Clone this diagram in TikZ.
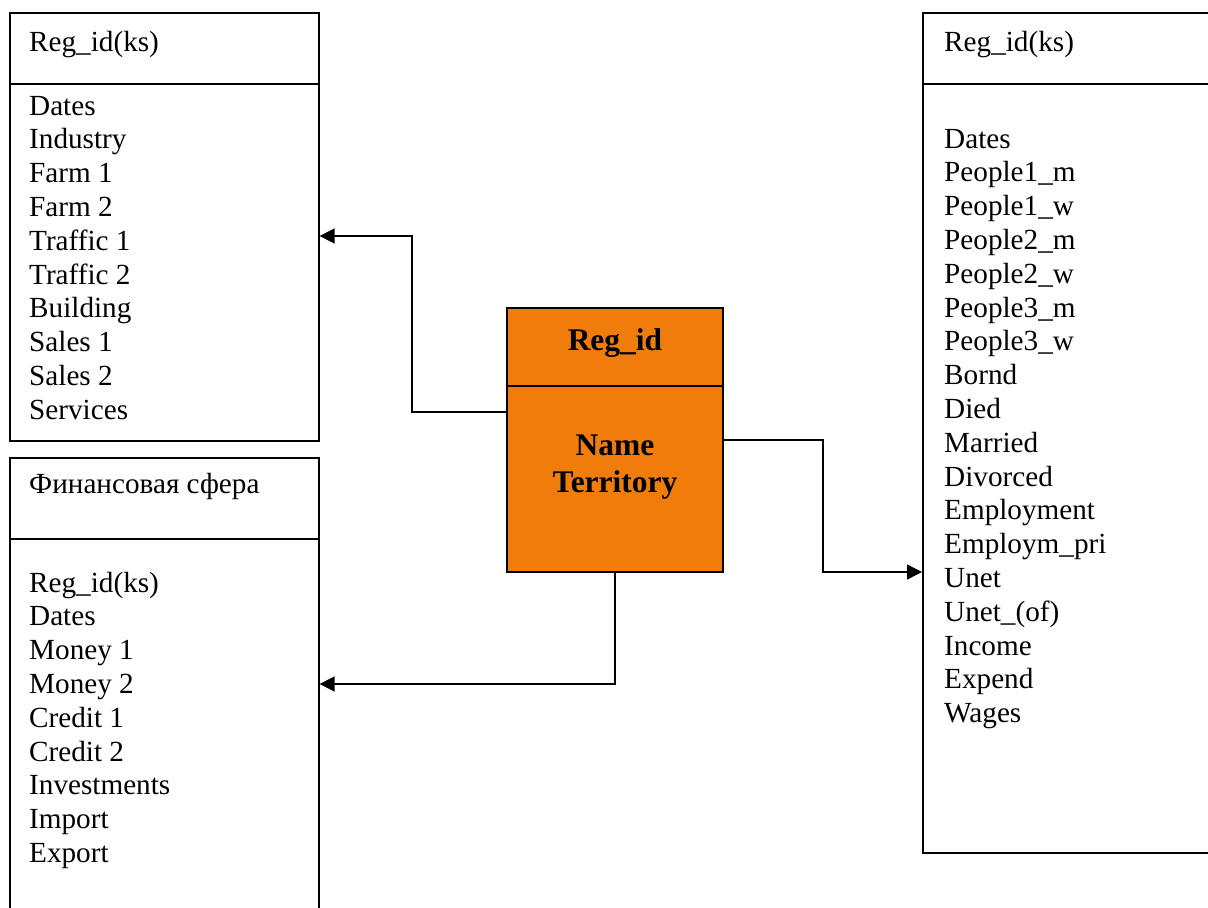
\documentclass[tikz,border=0pt]{standalone}
\usepackage{fontspec}
\setmainfont{Liberation Serif}
\usetikzlibrary{arrows.meta}
\definecolor{orng}{RGB}{240,125,10}
\begin{document}
\begin{tikzpicture}[x=1pt,y=-1pt,
  box/.style={draw,line width=1.6pt,rectangle,inner sep=0,anchor=north west},
  item/.style={anchor=base west,inner sep=0,font=\fontsize{29.2}{34}\selectfont},
  bitem/.style={anchor=base,inner sep=0,font=\fontsize{31.5}{34}\selectfont\bfseries},
  conn/.style={line width=1.4pt,-{Triangle[length=15pt,width=15pt]}}]
\useasboundingbox (0,0) rectangle (1208,908);
\clip (0,0) rectangle (1208,908);
% boxes
\node[box,minimum width=309pt,minimum height=428pt] (A) at (9,12) {};
\draw[line width=1.6pt] (9,84) -- (318,84);
\node[box,minimum width=309pt,minimum height=500pt] (B) at (9,457) {};
\draw[line width=1.6pt] (9,539) -- (318,539);
\node[box,minimum width=320pt,minimum height=840pt] (R) at (922,12) {};
\draw[line width=1.6pt] (922,84) -- (1230,84);
\node[draw,line width=1.5pt,fill=orng,rectangle,inner sep=0,minimum width=216pt,minimum height=264pt] (C) at (615,440) {};
\draw[line width=1.5pt] (507,386) -- (723,386);
% texts
\node[item] (ah) at (29,51) {Reg\_id(ks)};
\foreach \t [count=\i from 0] in {Dates,Industry,Farm 1,Farm 2,Traffic 1,Traffic 2,Building,Sales 1,Sales 2,Services}
  \node[item] (a\i) at (29,115+33.8*\i) {\t};
\node[item] (bh) at (29,493) {Финансовая сфера};
\foreach \t [count=\i from 0] in {Reg\_id(ks),Dates,Money 1,Money 2,Credit 1,Credit 2,Investments,Import,Export}
  \node[item] (b\i) at (29,592+33.8*\i) {\t};
\node[item] (rh) at (944,51) {Reg\_id(ks)};
\foreach \t [count=\i from 0] in {Dates,People1\_m,People1\_w,People2\_m,People2\_w,People3\_m,People3\_w,Bornd,Died,Married,Divorced,Employment,Employm\_pri,Unet,Unet\_(of),Income,Expend,Wages}
  \node[item] (r\i) at (944,148+33.8*\i) {\t};
\node[bitem] (c1) at (615,350) {Reg\_id};
\node[bitem] (c2) at (615,455) {Name};
\node[bitem] (c3) at (615,492) {Territory};
% connectors
\coordinate (s1) at (507,412);
\coordinate (k1) at (412,236);
\draw[conn] (C.west |- s1) -| (k1) -- (A.east |- k1);
\coordinate (k2) at (823,572);
\draw[conn] (C.east) -| (k2) -- (R.west |- k2);
\coordinate (k3) at (615,684);
\draw[conn] (C.south) -- (k3) -- (B.east |- k3);
\end{tikzpicture}
\end{document}
